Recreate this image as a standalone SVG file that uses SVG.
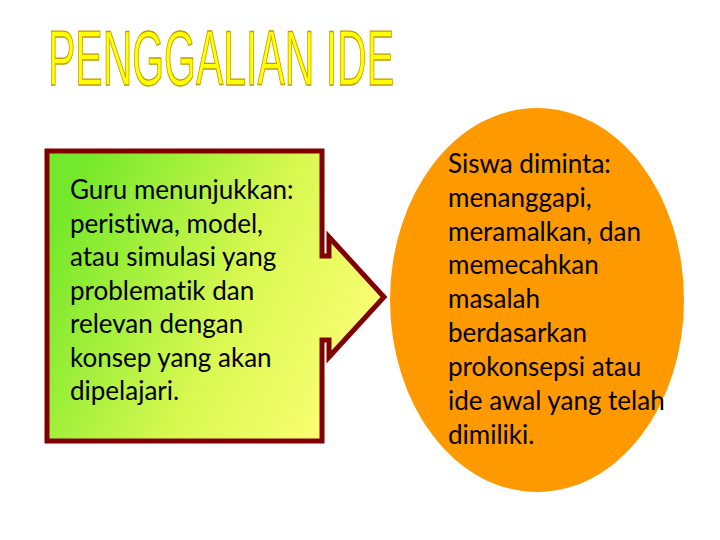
<svg xmlns="http://www.w3.org/2000/svg" width="720" height="540" viewBox="0 0 720 540">
<defs>
<linearGradient id="gy" x1="0" y1="0.3" x2="1" y2="0.7">
<stop offset="0" stop-color="#74e82a"/>
<stop offset="0.55" stop-color="#d8f850"/>
<stop offset="1" stop-color="#ffff78"/>
</linearGradient>
<style>
.t{font-family:Lato,"Open Sans",sans-serif;font-size:26px;fill:#000;font-variant-ligatures:none}
</style>
</defs>
<rect width="720" height="540" fill="#fff"/>
<g id="title">
<text x="48" y="85" font-family="'Liberation Sans',Arial,sans-serif" font-size="77" fill="#ffff00" stroke="#c49a00" stroke-width="1.3" textLength="346" lengthAdjust="spacingAndGlyphs">PENGGALIAN IDE</text>
</g>
<g id="connectors"></g>
<g id="node-guru">
<path d="M47,151 H322 V256 H329 V237 L384,297 L329,357 V340 H322 V441 H47 Z" fill="url(#gy)" stroke="#800000" stroke-width="5" stroke-linejoin="miter"/>
<text class="t" x="70" y="199">Guru menunjukkan:</text>
<text class="t" x="70" y="233">peristiwa, model,</text>
<text class="t" x="70" y="266">atau simulasi yang</text>
<text class="t" x="70" y="300">problematik dan</text>
<text class="t" x="70" y="333">relevan dengan</text>
<text class="t" x="70" y="367">konsep yang akan</text>
<text class="t" x="70" y="400">dipelajari.</text>
</g>
<g id="node-siswa">
<ellipse cx="537" cy="300" rx="147" ry="192" fill="#ff9900"/>
<text class="t" x="448" y="173">Siswa diminta:</text>
<text class="t" x="448" y="207">menanggapi,</text>
<text class="t" x="448" y="241">meramalkan, dan</text>
<text class="t" x="448" y="274">memecahkan</text>
<text class="t" x="448" y="308">masalah</text>
<text class="t" x="448" y="342">berdasarkan</text>
<text class="t" x="448" y="376">prokonsepsi atau</text>
<text class="t" x="448" y="410">ide awal yang telah</text>
<text class="t" x="448" y="444">dimiliki.</text>
</g>
</svg>
